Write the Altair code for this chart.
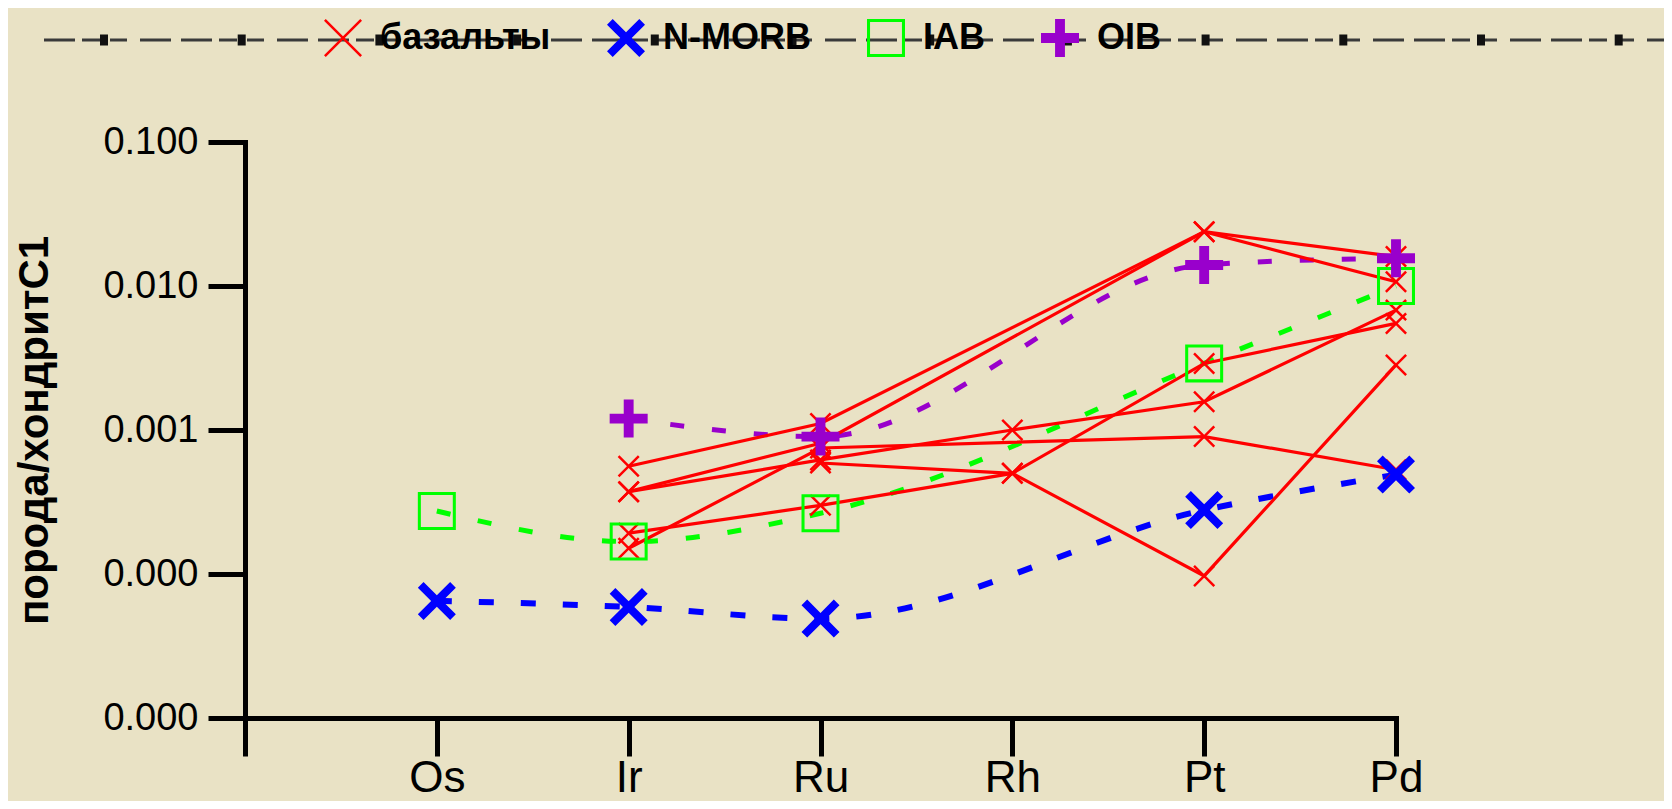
import altair as alt
import pandas as pd

# ---------------- data ----------------
elements = ["Os", "Ir", "Ru", "Rh", "Pt", "Pd"]

# basalt samples (rock / chondrite C1), None = not determined
basalt_1 = [None, 5.6e-4, 1.11e-3, None, 2.38e-2, 1.6e-2]
basalt_2 = [None, 3.73e-4, 8.1e-4, None, 2.38e-2, 1.07e-2]
basalt_3 = [None, 1.51e-4, 7.5e-4, None, 9.0e-4, 5.3e-4]
basalt_4 = [None, 3.73e-4, 6.2e-4, 1.0e-3, 1.57e-3, 6.8e-3]
basalt_5 = [None, 1.92e-4, 3.0e-4, 5.0e-4, 2.9e-3, 5.5e-3]
basalt_6 = [None, None, 5.9e-4, 5.0e-4, 9.7e-5, 2.83e-3]
basalts = [basalt_1, basalt_2, basalt_3, basalt_4, basalt_5, basalt_6]

nmorb = [6.5e-5, 5.9e-5, 4.9e-5, None, 2.78e-4, 4.9e-4]
iab = [2.74e-4, 1.68e-4, 2.64e-4, None, 2.9e-3, 1.0e-2]
oib = [None, 1.2e-3, 9.0e-4, None, 1.4e-2, 1.56e-2]

series_names = ["базальты", "N-MORB", "IAB", "OIB"]
series_colors = ["#ff0000", "#0000ff", "#00ff00", "#9900cc"]

y_ticks = [1e-5, 1e-4, 1e-3, 1e-2, 1e-1]

# ---------------- tables ----------------
b_rows = []
for i, s in enumerate(basalts):
    for j, v in enumerate(s):
        if v is not None:
            b_rows.append({"sample": f"b{i+1}", "element": elements[j], "x": j, "value": v})
basalt_df = pd.DataFrame(b_rows)

r_rows = []
for name, s in [("IAB", iab), ("N-MORB", nmorb), ("OIB", oib)]:
    for j, v in enumerate(s):
        if v is not None:
            r_rows.append({"series": name, "element": elements[j], "x": j, "value": v})
ref_df = pd.DataFrame(r_rows)


# ---------------- symbol shapes ----------------
def x_path(d):
    return (f"M{-1+d},-1L0,{-d}L{1-d},-1L1,{-1+d}L{d},0L1,{1-d}L{1-d},1L0,{d}"
            f"L{-1+d},1L-1,{1-d}L{-d},0L-1,{-1+d}Z")


def plus_path(h):
    return (f"M{-h},-1H{h}V{-h}H1V{h}H{h}V1H{-h}V{h}H-1V{-h}H{-h}Z")


def ring_path(k):
    return f"M-1,-1H1V1H-1Z M{-k},{-k}V{k}H{k}V{-k}Z"


shape_range = [x_path(0.093), x_path(0.30), ring_path(0.84), plus_path(0.26)]
small_x = x_path(0.16)

FONT = "Liberation Sans"
label_js = "[" + ",".join(f"'{e}'" for e in elements) + "]"

X = alt.X(
    "x:Q",
    scale=alt.Scale(domain=[-1, 5], nice=False, zero=False),
    axis=alt.Axis(
        values=list(range(-1, 6)),
        labelExpr=f"datum.value < 0 ? '' : {label_js}[datum.value]",
        title=None, grid=False, labelFlush=False, labelOverlap=False,
        labelFont=FONT, labelFontSize=44, labelColor="black", labelPadding=0,
        tickSize=38, tickWidth=5, tickColor="black",
        domainColor="black", domainWidth=5, domainCap="square",
    ),
)
Y = alt.Y(
    "value:Q",
    scale=alt.Scale(type="log", domain=[1e-5, 1e-1], nice=False),
    axis=alt.Axis(
        values=y_ticks, format=".3f", grid=False, labelFlush=False, labelOverlap=False,
        labelFont=FONT, labelFontSize=38, labelColor="black", labelPadding=10,
        tickSize=37, tickWidth=5, tickColor="black",
        domainColor="black", domainWidth=5, domainCap="square",
        title="порода/хондритС1",
        titleFont="Liberation Sans Narrow, Arial Narrow, Liberation Sans",
        titleFontSize=42, titleFontWeight="bold", titleColor="black",
        titleAngle=270, titleX=-211, titleY=288,
        titleAlign="center", titleBaseline="middle",
    ),
)

leg = alt.Legend(
    orient="none", legendX=79, legendY=-123, direction="horizontal", title=None,
    symbolSize=1444, symbolStrokeWidth=0, padding=0,
    labelFont=FONT, labelFontSize=36, labelFontWeight="bold", labelColor="black",
    labelOffset=18, columnPadding=56, labelLimit=400,
)

dummy = pd.DataFrame({"a": [0]})

# decorative dashed line at the top
deco_line = alt.Chart(dummy).mark_rule(
    color="#3a3a3a", strokeWidth=3, strokeDash=[17, 13, 31, 10, 31, 7, 18, 10],
    strokeDashOffset=68,
).encode(x=alt.value(-204), x2=alt.value(1423), y=alt.value(-102))
deco_marks = alt.Chart(dummy).mark_rule(
    color="#111111", strokeWidth=11, strokeDash=[8, 129.7],
).encode(x=alt.value(-145), x2=alt.value(1423), y=alt.value(-102))

ref_styles = {
    "N-MORB": ("#0000ff", 6, [15, 27]),
    "IAB": ("#00ff00", 5, [14, 28]),
    "OIB": ("#9900cc", 5, [14, 28]),
}
ref_lines = []
for name in ["IAB", "OIB", "N-MORB"]:
    c, w, d = ref_styles[name]
    ref_lines.append(
        alt.Chart(ref_df).transform_filter(alt.datum.series == name)
        .mark_line(color=c, strokeWidth=w, strokeDash=d, interpolate="monotone")
        .encode(x=X, y=Y)
    )

basalt_lines = alt.Chart(basalt_df).mark_line(color="#ff0000", strokeWidth=3.2).encode(
    x=X, y=Y, detail="sample:N"
)
basalt_points = alt.Chart(basalt_df).mark_point(
    shape=small_x, size=484, filled=True, fill="#ff0000", strokeWidth=0, opacity=1
).encode(x=X, y=Y)

ref_points = alt.Chart(ref_df).mark_point(
    filled=True, size=1444, strokeWidth=0, opacity=1
).encode(
    x=X, y=Y,
    fill=alt.Fill("series:N", scale=alt.Scale(domain=series_names, range=series_colors), legend=leg),
    shape=alt.Shape("series:N", scale=alt.Scale(domain=series_names, range=shape_range), legend=leg),
)

chart = alt.layer(
    deco_line, deco_marks, *ref_lines, basalt_lines, basalt_points, ref_points
).properties(
    width=1151, height=576,
    padding={"left": 237, "top": 134, "right": 268, "bottom": 83},
    autosize=alt.AutoSizeParams(type="none"),
    background="#e9e2c5",
).configure_view(stroke=None)

chart.save("out.html", embed_options={"renderer": "svg", "actions": False})
